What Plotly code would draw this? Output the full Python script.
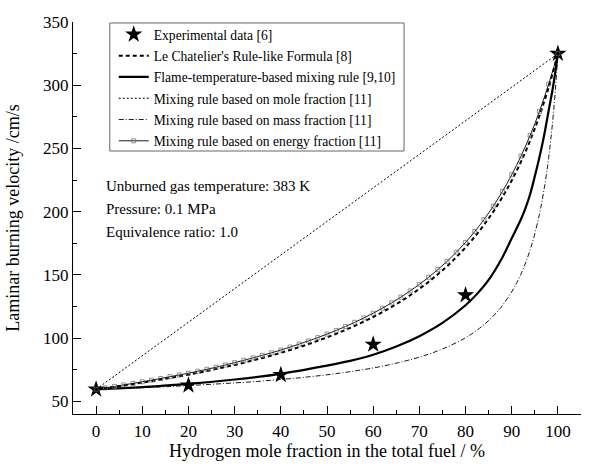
import plotly.graph_objects as go

FONT = "Liberation Serif"

# ---- data ----
exp_x = [0, 20, 40, 60, 80, 100]
exp_y = [59.5, 62.7, 71.0, 95.0, 134.0, 325.0]

lc_x = list(range(0, 101, 2))
lc_y = [59.5, 60.5, 61.5, 62.6, 63.7, 64.8, 66.0, 67.2, 68.5, 69.8, 71.1, 72.5,
        74.0, 75.6, 77.2, 78.8, 80.6, 82.4, 84.3, 86.3, 88.4, 90.6, 92.9, 95.3,
        97.9, 100.6, 103.4, 106.5, 109.7, 113.1, 116.7, 120.6, 124.7, 129.1,
        133.9, 139.0, 144.5, 150.5, 156.9, 164.0, 171.7, 180.2, 189.6, 200.0,
        211.7, 224.7, 239.5, 256.4, 275.8, 298.4, 325.0]

flame_x = [0, 10, 20, 30, 40, 50, 55, 60, 65, 70, 75, 80, 82.5, 85, 88,
           90, 92, 93, 94, 95, 96, 97, 98, 99, 100]
flame_y = [59.5, 61.3, 63.8, 67.3, 71.8, 78.3, 82.0, 86.8, 93.3, 101.5, 112.0,
           126.0, 135.0, 146.0, 164.0, 179.0, 194.0, 203.0, 214.0, 228.0,
           243.0, 260.0, 280.0, 300.0, 325.0]

mole_x = [0, 100]
mole_y = [59.5, 325.0]

mass_x = [0, 5, 10, 15, 20, 25, 30, 35, 40, 45, 50, 55, 60, 65, 70, 75, 80, 83,
          85, 87, 88, 90, 91, 92, 93, 94, 95, 96, 96.5, 97, 97.5, 98, 98.5, 99,
          99.5, 100]
mass_y = [59.5, 60.1, 60.8, 61.6, 62.5, 63.5, 64.6, 65.8, 67.3, 69.0, 71.0, 73.5,
          76.4, 80.2, 85.0, 91.4, 100.3, 107.7, 113.9, 121.4, 125.9, 136.6, 143.1,
          150.6, 159.5, 169.9, 182.5, 198.0, 207.2, 217.5, 229.2, 242.7, 258.4,
          276.7, 298.6, 325.0]

energy_x = list(range(0, 101, 2))
energy_y = [59.5, 60.6, 61.8, 63.0, 64.2, 65.5, 66.8, 68.1, 69.5, 70.9, 72.3, 73.8,
            75.4, 77.0, 78.8, 80.6, 82.5, 84.4, 86.4, 88.4, 90.6, 92.9, 95.3, 97.8,
            100.4, 103.2, 106.1, 109.2, 112.5, 116.0, 119.7, 123.7, 127.9, 132.4,
            137.3, 142.5, 148.1, 154.2, 160.7, 167.9, 175.7, 184.3, 193.8, 204.3,
            216.1, 229.2, 243.9, 260.4, 279.3, 300.9, 325.0]

names = ["Experimental data [6]",
         "Le Chatelier's Rule-like Formula [8]",
         "Flame-temperature-based mixing rule [9,10]",
         "Mixing rule based on mole fraction [11]",
         "Mixing rule based on mass fraction [11]",
         "Mixing rule based on energy fraction [11]"]

notes = ["Unburned gas temperature: 383 K",
         "Pressure: 0.1 MPa",
         "Equivalence ratio: 1.0"]

x_ticks = list(range(0, 101, 10))
y_ticks = list(range(50, 351, 50))

fig = go.Figure()

fig.add_trace(go.Scatter(x=exp_x, y=exp_y, mode="markers", name=names[0],
                         legendgroup="g0",
                         marker=dict(symbol="star", size=13, color="black")))
fig.add_trace(go.Scatter(x=lc_x, y=lc_y, mode="lines", name=names[1],
                         legendgroup="g1", line_shape="spline",
                         line=dict(color="black", width=2, dash="4px,3px")))
fig.add_trace(go.Scatter(x=flame_x, y=flame_y, mode="lines", name=names[2],
                         legendgroup="g2", line_shape="spline",
                         line=dict(color="black", width=2.2)))
fig.add_trace(go.Scatter(x=mole_x, y=mole_y, mode="lines", name=names[3],
                         legendgroup="g3",
                         line=dict(color="black", width=1, dash="2px,2px")))
fig.add_trace(go.Scatter(x=mass_x, y=mass_y, mode="lines", name=names[4],
                         legendgroup="g4", line_shape="spline",
                         line=dict(color="black", width=0.9, dash="5px,2px,1px,2px")))
fig.add_trace(go.Scatter(x=energy_x, y=energy_y, mode="lines+markers", name=names[5],
                         legendgroup="g5", line_shape="spline",
                         line=dict(color="black", width=0.9),
                         marker=dict(symbol="square-open", size=4, color="#666",
                                     line=dict(width=0.7, color="#666"))))

note_y = [0.5829, 0.5226, 0.4648]
for i, t in enumerate(notes):
    fig.add_annotation(x=0.0607, y=note_y[i], xref="paper", yref="paper",
                       text=t, showarrow=False, xanchor="left", yanchor="middle",
                       font=dict(family=FONT, size=15, color="black"))

# legend frame
fig.add_shape(type="rect", xref="paper", yref="paper",
              x0=0.0724, x1=0.6517, y0=0.6709, y1=0.9975,
              line=dict(color="#666", width=1), fillcolor="white", layer="below")

fig.update_layout(
    width=609, height=468,
    margin=dict(l=70, r=28, t=22, b=48),
    paper_bgcolor="white", plot_bgcolor="white",
    font=dict(family=FONT, color="black"),
    showlegend=True,
    legend=dict(x=0.0802, y=1.0075, xanchor="left", yanchor="top",
                borderwidth=0, bgcolor="rgba(0,0,0,0)",
                font=dict(family=FONT, size=13.6, color="black"),
                traceorder="grouped", tracegroupgap=0.6),
)

fig.update_xaxes(range=[-5, 105], tickvals=x_ticks, ticks="inside", ticklen=8,
                 tickwidth=1, tickcolor="black", showline=True, linecolor="black",
                 linewidth=1, showgrid=False, zeroline=False,
                 tickfont=dict(family=FONT, size=17), ticklabelstandoff=2,
                 minor=dict(ticks="inside", ticklen=4, tickwidth=1, tickcolor="black",
                            dtick=5, tick0=0, showgrid=False),
                 title=dict(text="Hydrogen mole fraction in the total fuel / %",
                            font=dict(family=FONT, size=18), standoff=2))
fig.update_yaxes(range=[40, 350], tickvals=y_ticks, ticks="inside", ticklen=8,
                 tickwidth=1, tickcolor="black", showline=True, linecolor="black",
                 linewidth=1, showgrid=False, zeroline=False,
                 tickfont=dict(family=FONT, size=17),
                 minor=dict(ticks="inside", ticklen=4, tickwidth=1, tickcolor="black",
                            dtick=25, tick0=0, showgrid=False),
                 title=dict(text="Laminar burning velocity /cm/s",
                            font=dict(family=FONT, size=18), standoff=18))

fig.write_html("out.html", config={"displayModeBar": False},
               post_script="document.body.style.margin='0';")
